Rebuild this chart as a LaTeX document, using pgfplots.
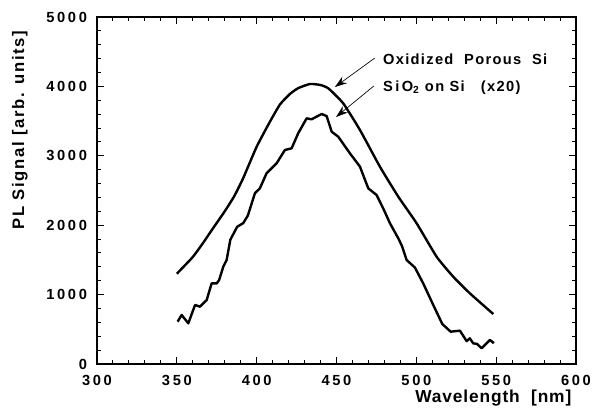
\documentclass[border=0pt]{standalone}
\usepackage{fontspec}
\setmainfont{Liberation Sans}
\usepackage{pgfplots}
\pgfplotsset{compat=1.18}
\usetikzlibrary{arrows.meta}

\begin{document}
\begin{tikzpicture}
\begin{axis}[
    scale only axis,
    width=359.25pt, height=260.25pt,
    xmin=300, xmax=600, ymin=0, ymax=5000,
    xtick={300,350,...,600}, ytick={0,1000,...,5000},
    minor x tick num=4, minor y tick num=4,
    tick pos=both, tick align=inside,
    major tick length=5pt, minor tick length=3pt,
    axis line style={line width=1pt}, every tick/.style={black, line width=0.8pt},
    /pgf/number format/assume math mode=true,
    /pgf/number format/1000 sep={},
    tick label style={font=\fontsize{11}{13}\selectfont\bfseries\addfontfeature{LetterSpace=18}},
    xticklabel style={yshift=-5pt},
    yticklabel style={xshift=-4pt},
    xlabel={Wavelength~~[nm]},
    xlabel style={font=\fontsize{13}{15}\selectfont\bfseries\addfontfeature{LetterSpace=5},
        at={(axis description cs:1,0)}, anchor=east, yshift=-25.5pt},
    ylabel={PL Signal [arb. units]},
    ylabel style={font=\fontsize{12.5}{15}\selectfont\bfseries\addfontfeature{LetterSpace=10},
        at={(axis description cs:-0.161,0.674)}, anchor=center},
]
% Oxidized porous Si
\addplot[black, line width=1.8pt, line join=round, smooth, tension=0.3] coordinates {
    (350,1300) (355,1420) (360.3,1550) (366,1730) (372.8,1960) (380,2200)
    (386,2420) (391.6,2680) (400,3131) (408.3,3491) (414.6,3740) (420.8,3890) (426,3975)
    (433.4,4035) (440,4020) (445,3970) (454.2,3756) (464.7,3372) (477.2,2843)
    (488.7,2411) (500.2,2027) (512.7,1546) (523.1,1258) (533.5,1019) (548.2,720)
};
% SiO2 on Si (x20)
\addplot[black, line width=1.8pt, line join=round] coordinates {
    (350.5,610) (353,706) (357.2,586) (361.4,850) (364.5,826) (368.7,922)
    (371.8,1162) (375,1162) (376.5,1210) (379.1,1402) (381.2,1499) (383.5,1790)
    (387.8,1978) (391.6,2030) (394.5,2140) (398.9,2460) (402,2531) (406.2,2748)
    (412.5,2892) (417.7,3084) (421.9,3108) (426,3324) (431.3,3540) (434.4,3526)
    (437.5,3564) (440.7,3602) (443.8,3573) (447,3347) (451.1,3275) (458.4,3036)
    (464.7,2843) (469.9,2531) (475.1,2435) (479.3,2240) (483.5,2027) (488.7,1811)
    (491,1700) (493.9,1499) (499.1,1390) (504.3,1162) (510.6,850) (516.3,575)
    (521.5,466) (527.3,480) (531.5,330) (533.5,370) (535.6,298) (538,290)
    (540.9,226) (544,298) (546.1,346) (548.6,300)
};
\node[anchor=west, inner sep=0pt, font=\fontsize{11}{13}\selectfont\bfseries\addfontfeature{LetterSpace=9}]
    at (axis cs:479,4395) {Oxidized~ Porous~ Si};
\node[anchor=west, inner sep=0pt, font=\fontsize{11}{13}\selectfont\bfseries\addfontfeature{LetterSpace=9}]
    at (axis cs:479,3977) {S\,i\,O\textsubscript{2} on Si~~ (x20)};
\draw[line width=0.5pt, -{Stealth[length=9pt, width=6pt]}] (axis cs:474,4409) -- (axis cs:449,3991);
\draw[line width=0.5pt, -{Stealth[length=9pt, width=6pt]}] (axis cs:473.4,4006) -- (axis cs:449.7,3559);
\end{axis}
\pgfresetboundingbox
\path[use as bounding box] ([shift={(-72.75pt,-40.5pt)}]current axis.south west)
    rectangle ([shift={(12.75pt,12.75pt)}]current axis.north east);
\end{tikzpicture}
\end{document}
